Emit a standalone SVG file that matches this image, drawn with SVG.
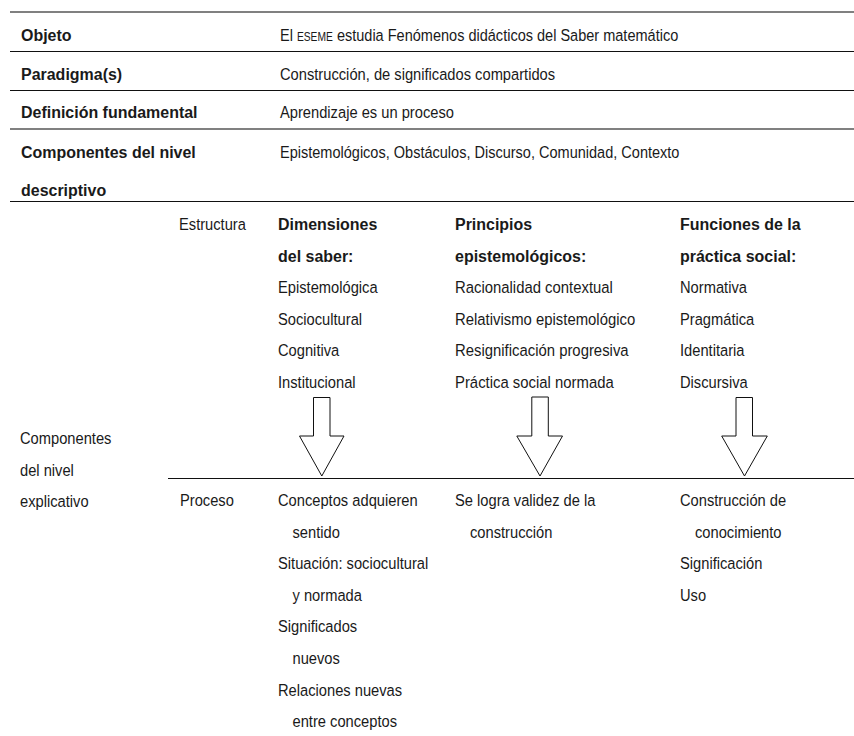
<svg xmlns="http://www.w3.org/2000/svg" width="854" height="736" viewBox="0 0 854 736">
<style>
.t{font-family:"Liberation Sans",Arial,sans-serif;font-size:17px;fill:#1a1a1a}
.b{font-weight:bold}
.rule{stroke:#111;stroke-width:1;fill:none}
.grey{stroke:#808080;stroke-width:1.8;fill:none}
.arrow{fill:#fff;stroke:#111;stroke-width:1}
</style>
<rect width="854" height="736" fill="#fff"/>
<g id="rules">
<line class="grey" x1="10" y1="12" x2="854" y2="12"/>
<line class="rule" x1="10" y1="51.5" x2="854" y2="51.5"/>
<line class="rule" x1="10" y1="90.5" x2="854" y2="90.5"/>
<line class="grey" x1="10" y1="129" x2="854" y2="129"/>
<line class="rule" x1="10" y1="201.5" x2="854" y2="201.5"/>
<line class="rule" x1="168" y1="478.5" x2="854" y2="478.5"/>
</g>
<g id="row-objeto">
<text class="t b" transform="matrix(.94 0 0 1 21 41)">Objeto</text>
<text class="t" transform="matrix(.855 0 0 1 280 41)">El <tspan font-size="12">ESEME</tspan> estudia Fenómenos didácticos del Saber matemático</text>
</g>
<g id="row-paradigma">
<text class="t b" transform="matrix(.94 0 0 1 21 79.5)">Paradigma(s)</text>
<text class="t" transform="matrix(.865 0 0 1 280 79.5)">Construcción, de significados compartidos</text>
</g>
<g id="row-definicion">
<text class="t b" transform="matrix(.94 0 0 1 21 118)">Definición fundamental</text>
<text class="t" transform="matrix(.865 0 0 1 280 118)">Aprendizaje es un proceso</text>
</g>
<g id="row-descriptivo">
<text class="t b" transform="matrix(.94 0 0 1 21 157.5)">Componentes del nivel</text>
<text class="t b" transform="matrix(.94 0 0 1 21 196)">descriptivo</text>
<text class="t" transform="matrix(.855 0 0 1 280 157.5)">Epistemológicos, Obstáculos, Discurso, Comunidad, Contexto</text>
</g>
<g id="label-explicativo">
<text class="t" transform="matrix(.865 0 0 1 20 444)">Componentes</text>
<text class="t" transform="matrix(.865 0 0 1 20 475.5)">del nivel</text>
<text class="t" transform="matrix(.865 0 0 1 20 507)">explicativo</text>
</g>
<g id="label-estructura">
<text class="t" transform="matrix(.865 0 0 1 179 230)">Estructura</text>
</g>
<g id="label-proceso">
<text class="t" transform="matrix(.865 0 0 1 180 506)">Proceso</text>
</g>
<g id="col-dimensiones">
<text class="t b" transform="matrix(.94 0 0 1 278 230)">Dimensiones</text>
<text class="t b" transform="matrix(.94 0 0 1 278 261.6)">del saber:</text>
<text class="t" transform="matrix(.865 0 0 1 278 293.2)">Epistemológica</text>
<text class="t" transform="matrix(.865 0 0 1 278 324.8)">Sociocultural</text>
<text class="t" transform="matrix(.865 0 0 1 278 356.4)">Cognitiva</text>
<text class="t" transform="matrix(.865 0 0 1 278 388)">Institucional</text>
</g>
<g id="col-principios">
<text class="t b" transform="matrix(.94 0 0 1 455 230)">Principios</text>
<text class="t b" transform="matrix(.94 0 0 1 455 261.6)">epistemológicos:</text>
<text class="t" transform="matrix(.875 0 0 1 455 293.2)">Racionalidad contextual</text>
<text class="t" transform="matrix(.875 0 0 1 455 324.8)">Relativismo epistemológico</text>
<text class="t" transform="matrix(.875 0 0 1 455 356.4)">Resignificación progresiva</text>
<text class="t" transform="matrix(.875 0 0 1 455 388)">Práctica social normada</text>
</g>
<g id="col-funciones">
<text class="t b" transform="matrix(.94 0 0 1 680 230)">Funciones de la</text>
<text class="t b" transform="matrix(.94 0 0 1 680 261.6)">práctica social:</text>
<text class="t" transform="matrix(.865 0 0 1 680 293.2)">Normativa</text>
<text class="t" transform="matrix(.865 0 0 1 680 324.8)">Pragmática</text>
<text class="t" transform="matrix(.865 0 0 1 680 356.4)">Identitaria</text>
<text class="t" transform="matrix(.865 0 0 1 680 388)">Discursiva</text>
</g>
<g id="proc-dimensiones">
<text class="t" transform="matrix(.865 0 0 1 278 506)">Conceptos adquieren</text>
<text class="t" transform="matrix(.865 0 0 1 292.5 537.6)">sentido</text>
<text class="t" transform="matrix(.865 0 0 1 278 569.2)">Situación: sociocultural</text>
<text class="t" transform="matrix(.865 0 0 1 292.5 600.8)">y normada</text>
<text class="t" transform="matrix(.865 0 0 1 278 632.4)">Significados</text>
<text class="t" transform="matrix(.865 0 0 1 292.5 664)">nuevos</text>
<text class="t" transform="matrix(.865 0 0 1 278 695.6)">Relaciones nuevas</text>
<text class="t" transform="matrix(.865 0 0 1 292.5 727.2)">entre conceptos</text>
</g>
<g id="proc-principios">
<text class="t" transform="matrix(.865 0 0 1 455 506)">Se logra validez de la</text>
<text class="t" transform="matrix(.865 0 0 1 470 537.6)">construcción</text>
</g>
<g id="proc-funciones">
<text class="t" transform="matrix(.865 0 0 1 680 506)">Construcción de</text>
<text class="t" transform="matrix(.865 0 0 1 695 537.6)">conocimiento</text>
<text class="t" transform="matrix(.865 0 0 1 680 569.2)">Significación</text>
<text class="t" transform="matrix(.865 0 0 1 680 600.8)">Uso</text>
</g>
<g id="connectors">
<polygon class="arrow" points="313.5,397.5 330,397.5 330,436 344,436 321.8,476 299.5,436 313.5,436"/>
<polygon class="arrow" points="531.8,397 548.3,397 548.3,436 562.5,436 540,476 516.8,436 531.8,436"/>
<polygon class="arrow" points="736,397.5 752.5,397.5 752.5,436 767.3,436 744.5,476 721.7,436 736,436"/>
</g>
</svg>
